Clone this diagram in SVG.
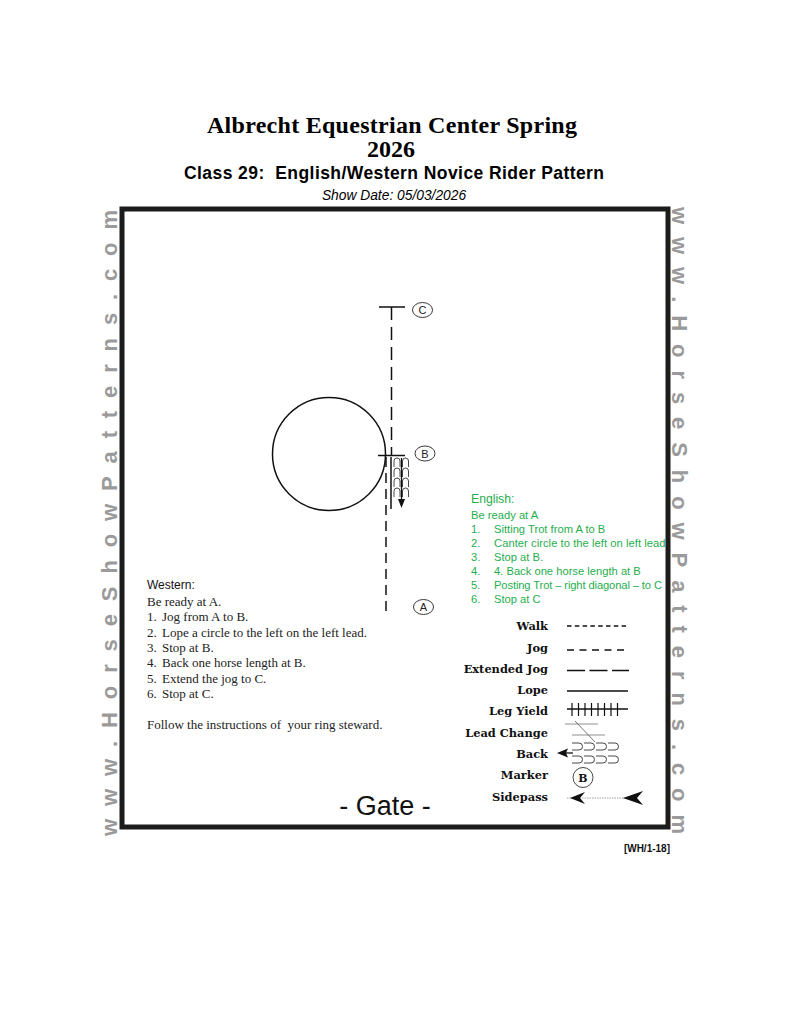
<svg xmlns="http://www.w3.org/2000/svg" width="791" height="1024" viewBox="0 0 791 1024">
<style>
.t1{font-family:"Liberation Serif",serif;font-weight:bold;font-size:24px;fill:#000}
.t2{font-family:"Liberation Sans",Arial,sans-serif;font-weight:bold;font-size:17.5px;fill:#000}
.t3{font-family:"Liberation Sans",Arial,sans-serif;font-style:italic;font-size:13.8px;fill:#000}
.wm{font-family:"Liberation Sans",Arial,sans-serif;font-weight:bold;font-size:22px;fill:#9a9a9a}
.eng{font-family:"Liberation Sans",Arial,sans-serif;font-size:11.2px;fill:#1fae4e}
.wes{font-family:"Liberation Serif",serif;font-size:13px;fill:#222}
.wesh{font-family:"Liberation Sans",Arial,sans-serif;font-size:12px;fill:#111}
.lg{font-family:"DejaVu Serif",serif;font-weight:bold;font-size:11.4px;fill:#111;text-anchor:end}
.mk{fill:#fff;stroke:#222;stroke-width:0.9}
.mkt{font-family:"Liberation Sans",Arial,sans-serif;font-size:11px;fill:#222;text-anchor:middle}
.ln{stroke:#111;stroke-width:1.5;fill:none}
.arch{stroke:#333;stroke-width:0.9;fill:none}
</style>
<rect width="791" height="1024" fill="#fff"/>
<g id="title">
<text class="t1" x="207" y="133" textLength="370">Albrecht Equestrian Center Spring</text>
<text class="t1" x="391" y="157" text-anchor="middle">2026</text>
<text class="t2" x="184" y="178.5" textLength="420" xml:space="preserve">Class 29:  English/Western Novice Rider Pattern</text>
<text class="t3" x="394" y="199.5" text-anchor="middle">Show Date: 05/03/2026</text>
</g>
<g id="arena">
<rect x="122" y="209" width="546" height="618" fill="none" stroke="#1c1c1c" stroke-width="5"/>
</g>
<g id="watermarks">
<text class="wm" transform="translate(117,836) rotate(-90)" x="0" y="0" textLength="626" lengthAdjust="spacing">www.HorseShowPatterns.com</text>
<text class="wm" transform="translate(672,207) rotate(90)" x="0" y="0" textLength="627" lengthAdjust="spacing">www.HorseShowPatterns.com</text>
</g>
<g id="connectors">
<line class="ln" x1="391.5" y1="307" x2="391.5" y2="455" stroke-dasharray="13 7"/>
<line class="ln" x1="386" y1="457" x2="386" y2="614" stroke-dasharray="10 6"/>
<line class="ln" x1="391" y1="457" x2="391" y2="509"/>
<line class="ln" x1="379" y1="307" x2="405" y2="307"/>
<line class="ln" x1="378" y1="455.5" x2="405" y2="455.5"/>
<circle class="ln" cx="329" cy="454" r="56.5"/>
</g>
<g id="back-pattern">
<path class="arch" d="M394,467 v-6 a3,3 0 0 1 6,0 v6 M394,477 v-6 a3,3 0 0 1 6,0 v6 M394,487 v-6 a3,3 0 0 1 6,0 v6 M394,497 v-6 a3,3 0 0 1 6,0 v6 M402.5,467 v-6 a3,3 0 0 1 6,0 v6 M402.5,477 v-6 a3,3 0 0 1 6,0 v6 M402.5,487 v-6 a3,3 0 0 1 6,0 v6 M402.5,497 v-6 a3,3 0 0 1 6,0 v6"/>
<line x1="401.5" y1="458" x2="401.5" y2="500" stroke="#111" stroke-width="1.3"/>
<polygon points="398,499 405,499 401.5,508" fill="#111"/>
</g>
<g id="marker-C">
<ellipse class="mk" cx="422.5" cy="310" rx="10" ry="7.5"/>
<text class="mkt" x="422.5" y="314">C</text>
</g>
<g id="marker-B">
<ellipse class="mk" cx="425" cy="453.5" rx="10" ry="7.5"/>
<text class="mkt" x="425" y="457.5">B</text>
</g>
<g id="marker-A">
<ellipse class="mk" cx="423.5" cy="607" rx="10" ry="7.5"/>
<text class="mkt" x="423.5" y="611">A</text>
</g>
<g id="english">
<text class="eng" x="471" y="503" style="font-size:12.2px">English:</text>
<text class="eng" x="471" y="518.5">Be ready at A</text>
<text class="eng" x="471" y="532.5">1.</text><text class="eng" x="494" y="532.5">Sitting Trot from A to B</text>
<text class="eng" x="471" y="546.7">2.</text><text class="eng" x="494" y="546.7" textLength="171.5">Canter circle to the left on left lead</text>
<text class="eng" x="471" y="561">3.</text><text class="eng" x="494" y="561">Stop at B.</text>
<text class="eng" x="471" y="575">4.</text><text class="eng" x="494" y="575">4. Back one horse length at B</text>
<text class="eng" x="471" y="589">5.</text><text class="eng" x="494" y="589" textLength="168">Posting Trot – right diagonal – to C</text>
<text class="eng" x="471" y="603.3">6.</text><text class="eng" x="494" y="603.3">Stop at C</text>
</g>
<g id="western">
<text class="wesh" x="147" y="589">Western:</text>
<text class="wes" x="147" y="606">Be ready at A.</text>
<text class="wes" x="147" y="621">1.</text><text class="wes" x="162" y="621">Jog from A to B.</text>
<text class="wes" x="147" y="636.5">2.</text><text class="wes" x="162" y="636.5">Lope a circle to the left on the left lead.</text>
<text class="wes" x="147" y="652">3.</text><text class="wes" x="162" y="652">Stop at B.</text>
<text class="wes" x="147" y="667">4.</text><text class="wes" x="162" y="667">Back one horse length at B.</text>
<text class="wes" x="147" y="682.5">5.</text><text class="wes" x="162" y="682.5">Extend the jog to C.</text>
<text class="wes" x="147" y="698">6.</text><text class="wes" x="162" y="698">Stop at C.</text>
<text class="wes" x="147" y="728.5" xml:space="preserve">Follow the instructions of  your ring steward.</text>
</g>
<g id="legend">
<text class="lg" x="548" y="630">Walk</text>
<line class="ln" x1="567" y1="626" x2="629" y2="626" stroke-dasharray="4.5 3.3"/>
<text class="lg" x="548" y="651.5">Jog</text>
<line class="ln" x1="567" y1="650" x2="629" y2="650" stroke-dasharray="7 5.5"/>
<text class="lg" x="548" y="673">Extended Jog</text>
<line class="ln" x1="567" y1="670.5" x2="629" y2="670.5" stroke-dasharray="18 4.5"/>
<text class="lg" x="548" y="694">Lope</text>
<line class="ln" x1="567" y1="691" x2="628" y2="691"/>
<text class="lg" x="548" y="715">Leg Yield</text>
<line class="ln" x1="567" y1="709" x2="628" y2="709"/>
<path d="M572,703 v13 M578.5,703 v13 M585,703 v13 M591.5,703 v13 M598,703 v13 M604.5,703 v13 M611,703 v13 M617.5,703 v13" stroke="#111" stroke-width="1.2"/>
<text class="lg" x="548" y="736.5">Lead Change</text>
<line x1="565" y1="724" x2="598" y2="724" stroke="#b5b5b5" stroke-width="1.5"/>
<line x1="572" y1="735" x2="605" y2="735" stroke="#b5b5b5" stroke-width="1.5"/>
<line x1="575" y1="721" x2="595" y2="742" stroke="#555" stroke-width="0.8"/>
<text class="lg" x="548" y="758">Back</text>
<path class="arch" d="M572,743 h7 a3.5,3.5 0 0 1 0,7 h-7 M584,743 h7 a3.5,3.5 0 0 1 0,7 h-7 M596,743 h7 a3.5,3.5 0 0 1 0,7 h-7 M608,743 h7 a3.5,3.5 0 0 1 0,7 h-7 M572,756 h7 a3.5,3.5 0 0 1 0,7 h-7 M584,756 h7 a3.5,3.5 0 0 1 0,7 h-7 M596,756 h7 a3.5,3.5 0 0 1 0,7 h-7 M608,756 h7 a3.5,3.5 0 0 1 0,7 h-7"/>
<line x1="565" y1="753" x2="573" y2="753" stroke="#111" stroke-width="1.3"/>
<polygon points="557,753 568,748.5 566,753 568,757.5" fill="#111"/>
<text class="lg" x="548" y="779">Marker</text>
<circle cx="583" cy="777.5" r="10" fill="#fff" stroke="#333" stroke-width="0.9"/>
<text x="583" y="782" text-anchor="middle" style="font-family:'DejaVu Serif',serif;font-weight:bold;font-size:11px;fill:#111">B</text>
<text class="lg" x="548" y="800.5">Sidepass</text>
<line x1="567" y1="798" x2="633" y2="798" stroke="#888" stroke-width="0.8" stroke-dasharray="1.5 1"/>
<polygon points="570,798 585,792 580,798 585,804" fill="#111"/>
<polygon points="623,798 643,791 637,798 643,805" fill="#111"/>
</g>
<g id="footer">
<text x="385" y="815" text-anchor="middle" style="font-family:'Liberation Sans',Arial,sans-serif;font-size:27px;fill:#111">- Gate -</text>
<text x="670" y="852" text-anchor="end" style="font-family:'Liberation Sans',Arial,sans-serif;font-weight:bold;font-size:10px;fill:#111">[WH/1-18]</text>
</g>
</svg>
